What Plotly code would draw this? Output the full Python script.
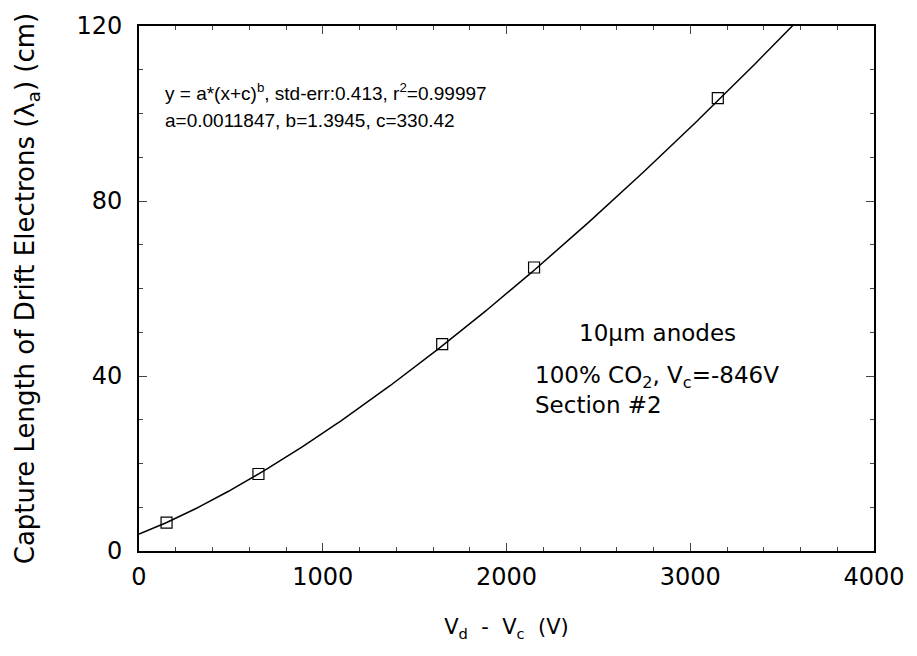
import numpy as np
import plotly.graph_objects as go

# Measured data points
x_data = [150, 650, 1650, 2150, 3150]
y_data = [6.5, 17.6, 47.3, 64.8, 103.5]

# Fit parameters shown on the chart: y = a*(x+c)^b
fit_a = 0.0011847
fit_b = 1.3945
fit_c = 330.42

x_ticks = [0, 1000, 2000, 3000, 4000]
y_ticks = [0, 40, 80, 120]

x_fit = np.linspace(0, 3600, 400)
y_fit = fit_a * (x_fit + fit_c) ** fit_b

fig = go.Figure()
fig.add_trace(go.Scatter(x=x_fit, y=y_fit, mode="lines",
                         line=dict(color="black", width=1.5), hoverinfo="skip"))
fig.add_trace(go.Scatter(x=x_data, y=y_data, mode="markers",
                         marker=dict(symbol="square-open", size=11, color="black",
                                     line=dict(width=1.2, color="black"))))

wide = "DejaVu Sans, Verdana, sans-serif"
narrow = "Liberation Sans, Arial, sans-serif"

fig.update_layout(
    width=917, height=656,
    margin=dict(l=139, r=37, t=20, b=105),
    paper_bgcolor="white", plot_bgcolor="white",
    showlegend=False,
    font=dict(family=wide, color="black"),
    xaxis=dict(range=[0, 4000], tickvals=x_ticks, ticks="inside", ticklen=8,
               tickwidth=1.2, showline=True, linecolor="black", linewidth=1.8,
               mirror="ticks", showgrid=False, zeroline=False,
               tickfont=dict(size=24, family=wide), ticklabelstandoff=3,
               minor=dict(dtick=200, ticks="inside", ticklen=4, tickwidth=1, showgrid=False),
               title=dict(text="V<sub>d</sub>  -  V<sub>c</sub>  (V)", font=dict(size=21, family=wide), standoff=30)),
    yaxis=dict(range=[0, 120], tickvals=y_ticks, ticks="inside", ticklen=8,
               tickwidth=1.2, showline=True, linecolor="black", linewidth=1.8,
               mirror="ticks", showgrid=False, zeroline=False,
               tickfont=dict(size=24, family=wide), ticklabelstandoff=10,
               minor=dict(dtick=10, ticks="inside", ticklen=4, tickwidth=1, showgrid=False),
               title=dict(text="Capture Length of Drift Electrons (λ<sub>a</sub>) (cm)",
                          font=dict(size=26, family=wide), standoff=34)),
)

top_font = dict(size=19, family=narrow, color="black")
br_font = dict(size=23, family=wide, color="black")
fig.add_annotation(x=163, y=87, xref="paper", yref="paper", showarrow=False,
                   text="y = a*(x+c)<sup>b</sup>, std-err:0.413, r<sup>2</sup>=0.99997",
                   font=top_font, xanchor="left", yanchor="middle")
fig.add_annotation(x=163, y=116, xref="paper", yref="paper", showarrow=False,
                   text="a=0.0011847, b=1.3945, c=330.42",
                   font=top_font, xanchor="left", yanchor="middle")
fig.add_annotation(x=662, y=331, xref="paper", yref="paper", showarrow=False,
                   text="10μm anodes", font=br_font, xanchor="center", yanchor="middle")
fig.add_annotation(x=536, y=375, xref="paper", yref="paper", showarrow=False,
                   text="100% CO<sub>2</sub>, V<sub>c</sub>=-846V", font=br_font,
                   xanchor="left", yanchor="middle")
fig.add_annotation(x=536, y=403, xref="paper", yref="paper", showarrow=False,
                   text="Section #2", font=br_font, xanchor="left", yanchor="middle")

# convert pixel positions to paper coords
pl, pr, pt, pb = 139, 880, 20, 551
for ann in fig.layout.annotations:
    px, py = ann.x, ann.y
    ann.x = (px - pl) / (pr - pl)
    ann.y = (pb - py) / (pb - pt)

fig.write_html("out.html")
